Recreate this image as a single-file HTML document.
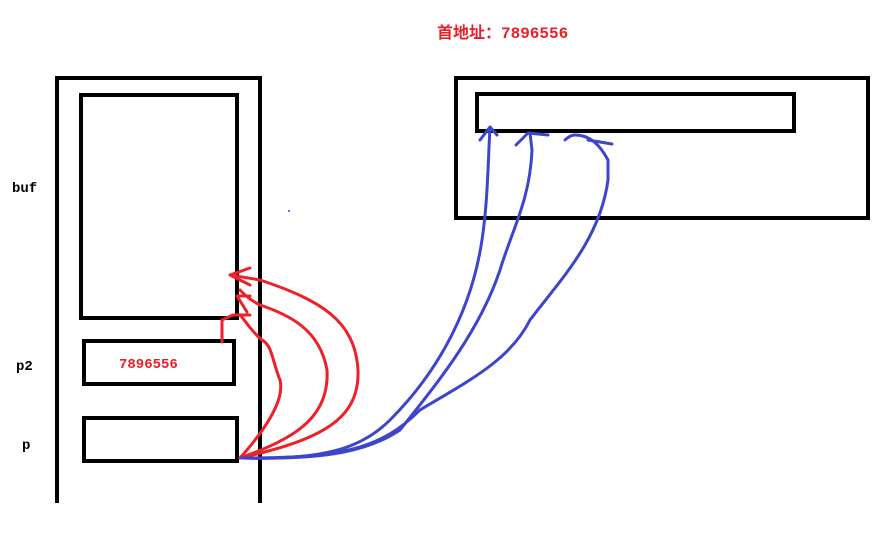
<!DOCTYPE html>
<html><head><style>body{margin:0;background:#fff}svg{display:block}</style></head><body>
<svg width="890" height="543" viewBox="0 0 890 543" xmlns="http://www.w3.org/2000/svg">
<rect width="890" height="543" fill="#fff"/>
<g fill="none" stroke="#000" stroke-width="4">
<path d="M57,503 V78 H260 V503"/>
<rect x="81" y="95" width="156" height="223"/>
<rect x="84" y="341" width="150" height="43"/>
<rect x="84" y="418" width="153" height="43"/>
<rect x="456" y="78" width="412" height="140"/>
<rect x="477" y="94" width="317" height="37"/>
</g>
<g font-family="Liberation Mono, monospace" font-size="14" font-weight="bold">
<text x="12" y="192" fill="#000">buf</text>
<text x="16" y="370" fill="#000">p2</text>
<text x="22" y="449" fill="#000">p</text>
<text x="119" y="368" fill="#e8202a">7896556</text>
<text x="437" y="38" fill="#e8202a" font-size="16" font-family="Liberation Mono, 'Noto Sans CJK SC', monospace">首地址：7896556</text>
</g>
<g fill="none" stroke="#ee2028" stroke-width="3" stroke-linecap="round" stroke-linejoin="round">
<path d="M240,458 C265,430 285,400 280,380 C272,360 272,345 262,340 C250,330 245,320 240,315 M250,315 L233,315 L222,320 L222,342"/>
<path d="M240,458 C290,440 330,420 327,370 C320,330 290,315 260,305 C250,300 245,295 240,290 M250,296 L237,296 L247,312"/>
<path d="M240,458 C320,440 360,420 358,370 C355,320 320,300 260,280 L230,275 L250,268 M230,275 L250,285"/>
</g>
<g fill="none" stroke="#3c45cc" stroke-width="3" stroke-linecap="round" stroke-linejoin="round">
<path d="M242,458 C320,460 360,450 390,420 C430,380 470,320 482,240 C488,200 488,160 490,128 M480,140 L490,127 L497,135"/>
<path d="M242,458 C330,460 370,450 400,430 C440,380 480,330 500,270 C512,230 530,200 532,150 L530,133 M516,145 L528,133 L548,135"/>
<path d="M242,458 C340,458 380,450 420,410 C470,380 510,360 530,320 C560,280 600,240 608,180 L608,160 C600,145 590,135 575,135 C570,135 565,140 565,140 M588,140 L612,144"/>
</g>
<circle cx="289" cy="211" r="1" fill="#3c45cc"/>
</svg>
</body></html>
